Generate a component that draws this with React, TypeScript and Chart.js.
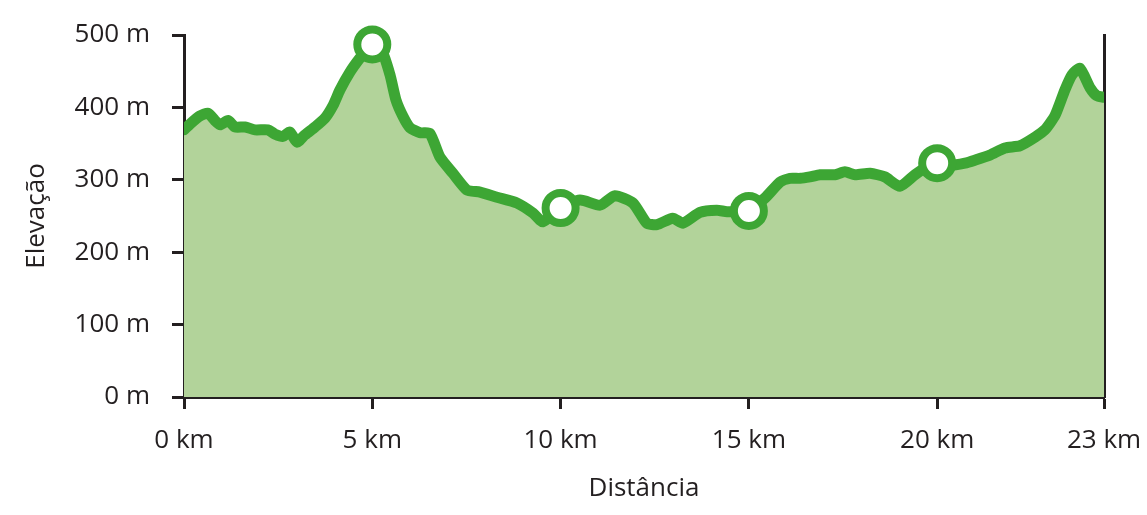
import React, { useEffect, useRef } from "react";
import { Chart, registerables } from "chart.js";

Chart.register(...registerables);

// Distance along the route (km)
const distances = [
  0.0, 0.16, 0.42, 0.64, 0.82, 0.96, 1.17, 1.35, 1.62, 1.89, 2.23, 2.42, 2.63, 2.81, 3.0, 3.21, 3.48, 3.74, 3.96,
  4.14, 4.41, 4.67, 4.97, 5.26, 5.47, 5.63, 5.82, 6.0, 6.27, 6.53, 6.8, 7.14, 7.51, 7.86, 8.31, 8.84, 9.27, 9.53,
  9.98, 10.52, 11.05, 11.44, 11.92, 12.29, 12.56, 12.98, 13.25, 13.7, 14.15, 14.42, 14.98, 15.43, 15.83, 16.09,
  16.36, 16.62, 16.89, 17.29, 17.55, 17.82, 18.22, 18.61, 19.01, 19.41, 19.68, 19.99, 20.34, 20.74, 21.0, 21.4,
  21.8, 22.2, 22.6, 22.86, 23.13, 23.39, 23.58, 23.79, 24.06, 24.24, 24.43,
];

// Elevation (m)
const elevations = [
  369, 377, 388, 392, 382, 376, 382, 373, 373, 369, 369, 363, 360, 366, 352, 362, 373, 385, 403,
  424, 449, 468, 487, 477, 445, 410, 387, 372, 365, 364, 331, 309, 286, 283, 276, 268, 254, 242,
  261, 272, 265, 278, 268, 240, 238, 247, 240, 255, 258, 256, 257, 275, 297, 302,
  302, 304, 307, 307, 311, 307, 309, 304, 291, 307, 316, 323, 320, 323, 327, 334,
  344, 347, 359, 369, 389, 424, 445, 454, 427, 416, 414,
];

// Waypoint markers
const markerDistances = [5, 10, 15, 20];
const markerElevations = [487, 261, 257, 323];

// Axis ticks
const xTickValues = [0, 5, 10, 15, 20, 24.43];
const xTickLabels = ["0 km", "5 km", "10 km", "15 km", "20 km", "23 km"];
const yTickStep = 100;

const GREEN = "#3da634";
const FILL = "#b2d39a";
const AXIS = "#231f20";
const FONT = "'Open Sans', sans-serif";
const FONT_SIZE = 26;

export default function App() {
  const ref = useRef<HTMLCanvasElement | null>(null);

  useEffect(() => {
    document.body.style.margin = "0";
    const canvas = ref.current;
    if (!canvas) return;
    const chart = new Chart(canvas, {
      type: "line",
      data: {
        datasets: [
          {
            data: markerDistances.map((x, i) => ({ x, y: markerElevations[i] })),
            showLine: false,
            pointRadius: 15,
            pointHoverRadius: 15,
            pointBorderWidth: 8,
            pointBackgroundColor: "#ffffff",
            pointBorderColor: GREEN,
            clip: false as any,
            order: 0,
          },
          {
            data: distances.map((x, i) => ({ x, y: elevations[i] })),
            borderColor: GREEN,
            backgroundColor: FILL,
            borderWidth: 11,
            fill: "origin",
            pointRadius: 0,
            tension: 0.2,
            borderCapStyle: "round",
            borderJoinStyle: "round",
            order: 1,
          },
        ],
      },
      options: {
        animation: false,
        responsive: false,
        maintainAspectRatio: false,
        layout: { padding: { left: 0, top: 35, right: 43, bottom: 0 } },
        plugins: { legend: { display: false }, tooltip: { enabled: false } },
        scales: {
          x: {
            type: "linear",
            min: 0,
            max: xTickValues[xTickValues.length - 1],
            afterBuildTicks: (scale: any) => {
              scale.ticks = xTickValues.map((v) => ({ value: v }));
            },
            afterFit: (scale: any) => {
              scale.height = 118;
              scale.paddingLeft = 0;
              scale.paddingRight = 0;
            },
            ticks: {
              autoSkip: false,
              maxRotation: 0,
              padding: 16,
              color: AXIS,
              font: { family: FONT, size: FONT_SIZE },
              callback: (v: any) => {
                const i = xTickValues.indexOf(Number(v));
                return i >= 0 ? xTickLabels[i] : "";
              },
            },
            grid: { drawOnChartArea: false, tickLength: 12, tickWidth: 3, tickColor: AXIS },
            border: { display: true, color: AXIS, width: 3 },
            title: {
              display: true,
              text: "Distância",
              color: AXIS,
              font: { family: FONT, size: FONT_SIZE },
              padding: { top: 0, bottom: 11 },
            },
          },
          y: {
            min: 0,
            max: 500,
            afterFit: (scale: any) => {
              scale.width = 184;
              scale.paddingTop = 0;
              scale.paddingBottom = 0;
            },
            ticks: {
              stepSize: yTickStep,
              padding: 22,
              color: AXIS,
              font: { family: FONT, size: FONT_SIZE },
              callback: (v: any) => `${v} m`,
            },
            grid: { drawOnChartArea: false, tickLength: 12, tickWidth: 3, tickColor: AXIS },
            border: { display: true, color: AXIS, width: 3 },
            title: {
              display: true,
              text: "Elevação",
              color: AXIS,
              font: { family: FONT, size: FONT_SIZE },
              padding: { top: 21, bottom: 0 },
            },
          },
          y2: {
            position: "right",
            min: 0,
            max: 500,
            afterFit: (scale: any) => {
              scale.width = 0;
            },
            ticks: { display: false },
            grid: { display: false, drawTicks: false },
            border: { display: true, color: AXIS, width: 3 },
          },
        },
      },
    });
    return () => chart.destroy();
  }, []);

  return (
    <div style={{ width: 1147, height: 515 }}>
      <canvas ref={ref} width={1147} height={515} style={{ display: "block" }} />
    </div>
  );
}
